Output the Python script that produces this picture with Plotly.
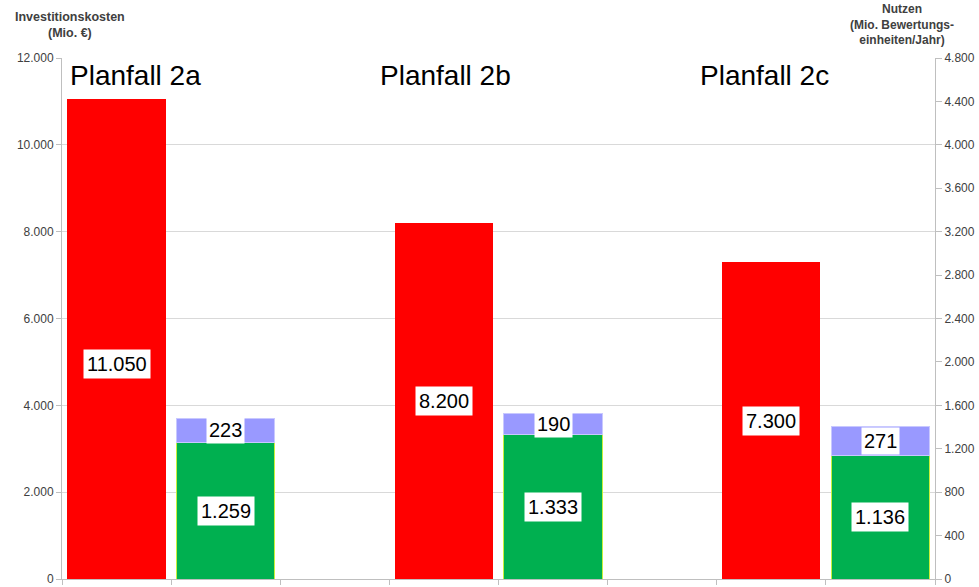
import plotly.graph_objects as go

planfaelle = ["Planfall 2a", "Planfall 2b", "Planfall 2c"]
investitionskosten = [11050, 8200, 7300]          # Mio. €
nutzen_basis = [1259, 1333, 1136]                 # Mio. Bewertungseinheiten/Jahr
nutzen_zusatz = [223, 190, 271]
left_ticks = [0, 2000, 4000, 6000, 8000, 10000, 12000]
right_ticks = list(range(0, 4801, 400))

def de(v):
    return f"{v:,}".replace(",", ".")

x_red = [3 * i for i in range(len(planfaelle))]
x_green = [3 * i + 1 for i in range(len(planfaelle))]

FONT = "Liberation Sans, Arial, sans-serif"
title_shift = [19, 2, -7]

fig = go.Figure()
fig.add_trace(go.Bar(x=x_red, y=investitionskosten, width=0.9, marker=dict(color="#FF0000", line=dict(width=0)),
                     yaxis="y", showlegend=False, hoverinfo="y"))
fig.add_trace(go.Bar(x=x_green, y=nutzen_basis, width=0.9, marker=dict(color="#00B050", line=dict(color="#C8F03C", width=1)),
                     yaxis="y2", showlegend=False, hoverinfo="y"))
fig.add_trace(go.Bar(x=x_green, y=nutzen_zusatz, width=0.9, marker=dict(color="#9999FF", line=dict(color="#C8C8FF", width=1)),
                     yaxis="y2", showlegend=False, hoverinfo="y"))

ann = []
for i, name in enumerate(planfaelle):
    ann.append(dict(x=x_red[i], y=1, xref="x", yref="paper", yanchor="top", xanchor="center",
                    xshift=title_shift[i], yshift=0,
                    text=name, showarrow=False, font=dict(family=FONT, size=28, color="#000000")))
    ann.append(dict(x=x_red[i], y=investitionskosten[i] / 2, xref="x", yref="y", text=de(investitionskosten[i]),
                    showarrow=False, bgcolor="#FFFFFF", borderpad=3,
                    yshift=-25 if i == 0 else 0,
                    font=dict(family=FONT, size=20, color="#000000")))
    ann.append(dict(x=x_green[i], y=nutzen_basis[i] / 2, xref="x", yref="y2", text=de(nutzen_basis[i]),
                    showarrow=False, bgcolor="#FFFFFF", borderpad=3,
                    font=dict(family=FONT, size=20, color="#000000")))
    ann.append(dict(x=x_green[i], y=nutzen_basis[i] + nutzen_zusatz[i] / 2, xref="x", yref="y2",
                    text=de(nutzen_zusatz[i]), showarrow=False, bgcolor="#FFFFFF", borderpad=2,
                    font=dict(family=FONT, size=20, color="#000000")))

ann.append(dict(x=0.009, y=1.0, xref="paper", yref="paper", xanchor="center", yanchor="bottom", yshift=16,
                text="<b>Investitionskosten<br>(Mio. €)</b>",
                showarrow=False, font=dict(family=FONT, size=12.5, color="#404040")))
ann.append(dict(x=0.962, y=1.0, xref="paper", yref="paper", xanchor="center", yanchor="bottom", yshift=9,
                text="<b>Nutzen<br>(Mio. Bewertungs-<br>einheiten/Jahr)</b>",
                showarrow=False, font=dict(family=FONT, size=12, color="#404040")))

fig.update_layout(
    width=979, height=587,
    margin=dict(l=62, r=44, t=58, b=8, autoexpand=False),
    paper_bgcolor="#FFFFFF", plot_bgcolor="#FFFFFF",
    barmode="stack", bargap=0.1,
    separators=",.",
    font=dict(family=FONT, size=12, color="#404040"),
    xaxis=dict(range=[-0.5, 7.5], tickmode="array", tickvals=[i - 0.5 for i in range(9)], ticktext=[""] * 9,
               ticks="outside", ticklen=5, tickcolor="#BFBFBF", showgrid=False, zeroline=False, automargin=False,
               showline=True, linecolor="#BFBFBF", linewidth=1),
    yaxis=dict(range=[0, 12000], tickmode="array", tickvals=left_ticks, ticktext=[de(v) for v in left_ticks],
               ticks="outside", ticklen=5, tickcolor="#BFBFBF", showgrid=True, gridcolor="#D9D9D9",
               zeroline=False, showline=True, linecolor="#BFBFBF", linewidth=1, automargin=False,
               ticklabeloverflow="allow",
               tickfont=dict(family=FONT, size=12, color="#404040")),
    yaxis2=dict(range=[0, 4800], overlaying="y", side="right", tickmode="array", tickvals=right_ticks,
                ticktext=[de(v) for v in right_ticks], ticks="outside", ticklen=6, tickcolor="#BFBFBF",
                showgrid=False, zeroline=False, showline=True, linecolor="#BFBFBF", linewidth=1, automargin=False,
                ticklabeloverflow="allow",
                tickfont=dict(family=FONT, size=12, color="#404040")),
    annotations=ann,
)

fig.write_html("out.html")
